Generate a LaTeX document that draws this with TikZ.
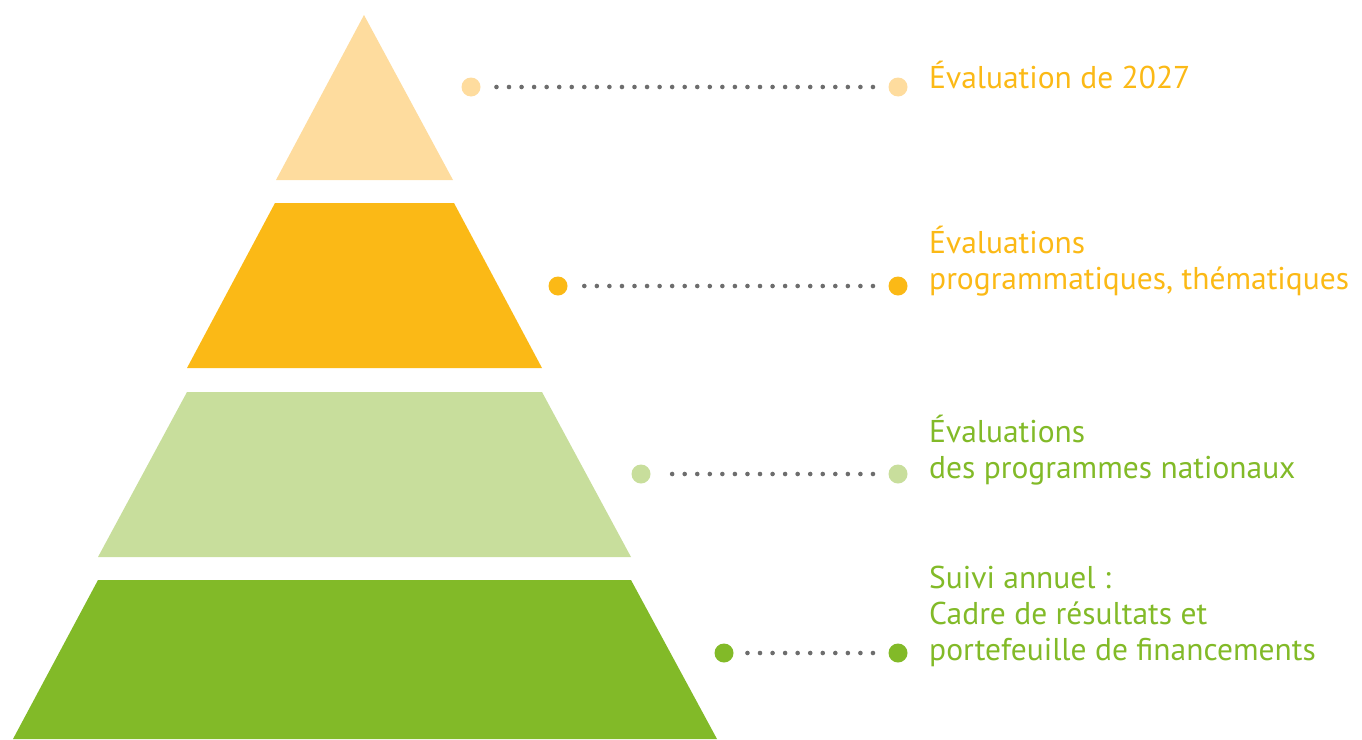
\documentclass[tikz,border=0pt]{standalone}
\usepackage{fontspec}
\setmainfont{PT Sans}
\usetikzlibrary{positioning}
\definecolor{peach}{HTML}{FEDC9E}
\definecolor{amber}{HTML}{FBB916}
\definecolor{sage}{HTML}{C8DE9C}
\definecolor{leaf}{HTML}{82BA28}
\definecolor{dotgray}{HTML}{6D6D6D}

\begin{document}
\begin{tikzpicture}[x=1pt, y=-1pt,
            bigdot/.style = {circle, inner sep=0pt, minimum size=19pt},
            dotline/.style = {dotgray, line width=4.6pt, line cap=round, dash pattern=on 0pt off 12.55pt, dash phase=6pt, shorten <=18.5pt, shorten >=22pt},
            txt/.style = {anchor=base west, align=left, inner sep=0pt, font=\fontsize{31.5}{36}\selectfont}]
            \useasboundingbox (0,0) rectangle (1362,739);
            % pyramid
            \fill [peach] (364,15) -- (453,180) -- (276,180) -- cycle;
            \fill [amber] (275,203) -- (454,203) -- (542,368) -- (187,368) -- cycle;
            \fill [sage] (187,392) -- (542,392) -- (631,557) -- (98,557) -- cycle;
            \fill [leaf] (98,580) -- (631,580) -- (717,739) -- (13,739) -- cycle;
            % dots
            \node (L1) [bigdot, fill=peach] at (471,87) {};
            \node (R1) [bigdot, fill=peach] at (898,87) {};
            \node (L2) [bigdot, fill=amber] at (558,286) {};
            \node (R2) [bigdot, fill=amber] at (898,286) {};
            \node (L3) [bigdot, fill=sage] at (641,474) {};
            \node (R3) [bigdot, fill=sage] at (898,474) {};
            \node (L4) [bigdot, fill=leaf] at (724,653) {};
            \node (R4) [bigdot, fill=leaf] at (898,653) {};
            % Connections
            \draw [dotline] (R1.center) -- (L1.center);
            \draw [dotline] (R2.center) -- (L2.center);
            \draw [dotline] (R3.center) -- (L3.center);
            \draw [dotline] (R4.center) -- (L4.center);
            % Text (base = last line)
            \node (txt_eval) [txt, text=amber] at (929,88) {Évaluation de 2027};
            \node (txt_prog) [txt, text=amber] at (929,289) {Évaluations\\programmatiques, thématiques};
            \node (txt_nat) [txt, text=leaf] at (929,478) {Évaluations\\des programmes nationaux};
            \node (txt_suivi) [txt, text=leaf] at (929,660) {Suivi annuel :\\Cadre de résultats et\\portefeuille de financements};
        \end{tikzpicture}
\end{document}
